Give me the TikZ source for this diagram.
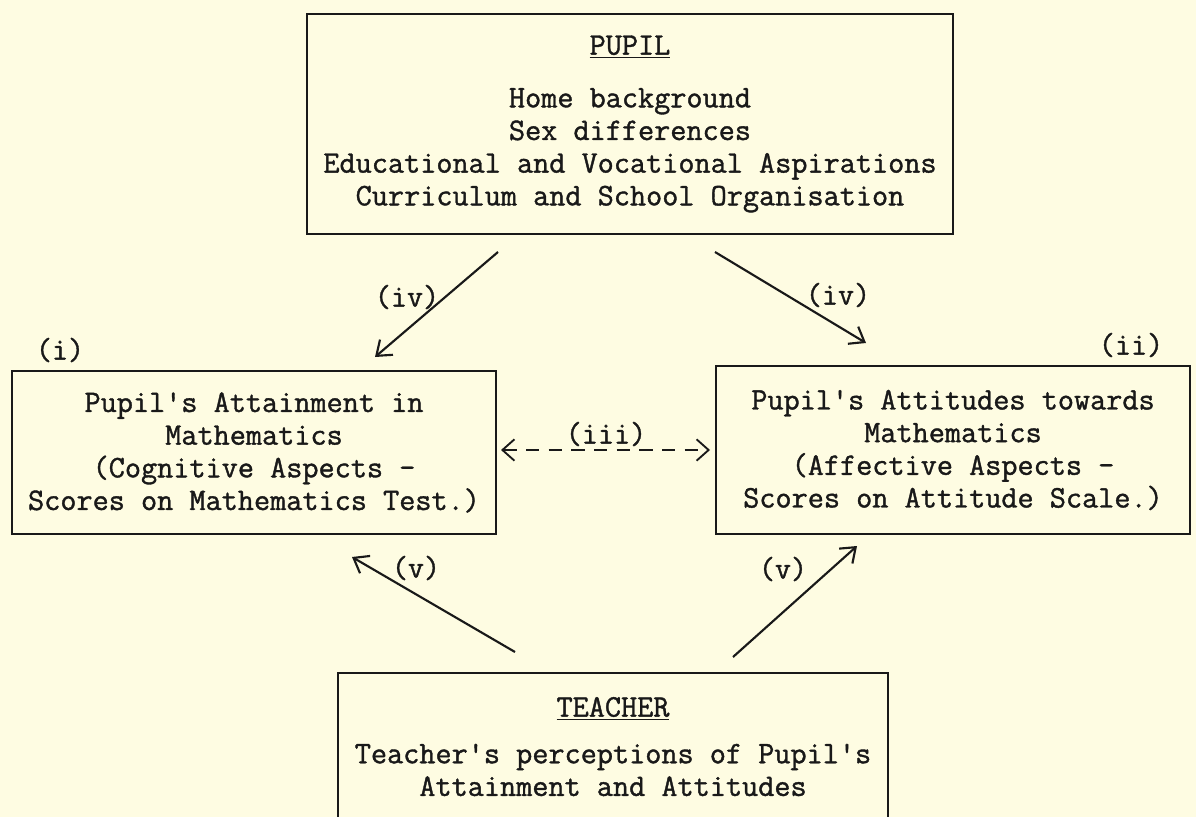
\documentclass[tikz,border=0pt]{standalone}
\usepackage{fontspec}
\newfontfamily\tw{Latin Modern Mono}[FakeBold=1.2]
\usetikzlibrary{arrows.meta}
\definecolor{paper}{RGB}{254,252,226}
\definecolor{ink}{RGB}{25,25,25}
\begin{document}
\begin{tikzpicture}[x=0.75pt,y=-0.75pt,
  every node/.style={font=\tw\fontsize{23.5}{24.5}\selectfont, text=ink},
  box/.style={draw=ink, line width=1.5pt, align=center, inner sep=0pt},
  conn/.style={draw=ink, line width=1.6pt, -{Straight Barb[length=10pt,width=15pt,line width=1.6pt]}},
  dconn/.style={draw=ink, line width=1.2pt, dash pattern=on 10pt off 7pt,
     {Straight Barb[length=9pt,width=16pt,line width=1.4pt]}-{Straight Barb[length=9pt,width=16pt,line width=1.4pt]}},
  lab/.style={inner sep=0pt}]
\fill[paper] (0,0) rectangle (1196,817);
\useasboundingbox (0,0) rectangle (1196,817);
\clip (0,0) rectangle (1196,817);

\node[box, minimum width=484.5pt, minimum height=165pt] (pupil) at (630,124)
  {\underline{PUPIL}\\[15pt]Home background\\Sex differences\\Educational and Vocational Aspirations\\Curriculum and School Organisation};

\node[box, minimum width=363pt, minimum height=122.25pt] (attain) at (254,452.5)
  {Pupil's Attainment in\\Mathematics\\(Cognitive Aspects -\\Scores on Mathematics Test.)};

\node[box, minimum width=355.5pt, minimum height=126pt] (attit) at (953,450)
  {Pupil's Attitudes towards\\Mathematics\\(Affective Aspects -\\Scores on Attitude Scale.)};

\node[box, minimum width=412.5pt, anchor=north, inner ysep=18pt] (teacher) at (613,672)
  {\underline{TEACHER}\\[10.5pt]Teacher's perceptions of Pupil's\\Attainment and Attitudes\\[30pt]\mbox{}};

\node[lab] (li) at (60,350) {(i)};
\node[lab] (lii) at (1131,345) {(ii)};
\node[lab] (liii) at (606,434) {(iii)};
\node[lab] (liva) at (407,297) {(iv)};
\node[lab] (livb) at (838,295) {(iv)};
\node[lab] (lva) at (416,568) {(v)};
\node[lab] (lvb) at (783,569) {(v)};

\coordinate (p1) at (498,252);
\coordinate (a1) at (375,357);
\coordinate (p2) at (715,252);
\coordinate (b2) at (866,343);
\coordinate (t1) at (515,652);
\coordinate (a3) at (352,557);
\coordinate (t2) at (733,657);
\coordinate (b4) at (857,546);
\coordinate (d1) at (501,450);
\coordinate (d2) at (710,450);

\draw[conn] (p1) -- (a1);
\draw[conn] (p2) -- (b2);
\draw[conn] (t1) -- (a3);
\draw[conn] (t2) -- (b4);
\draw[dconn] (d1) -- (d2);
\end{tikzpicture}
\end{document}
